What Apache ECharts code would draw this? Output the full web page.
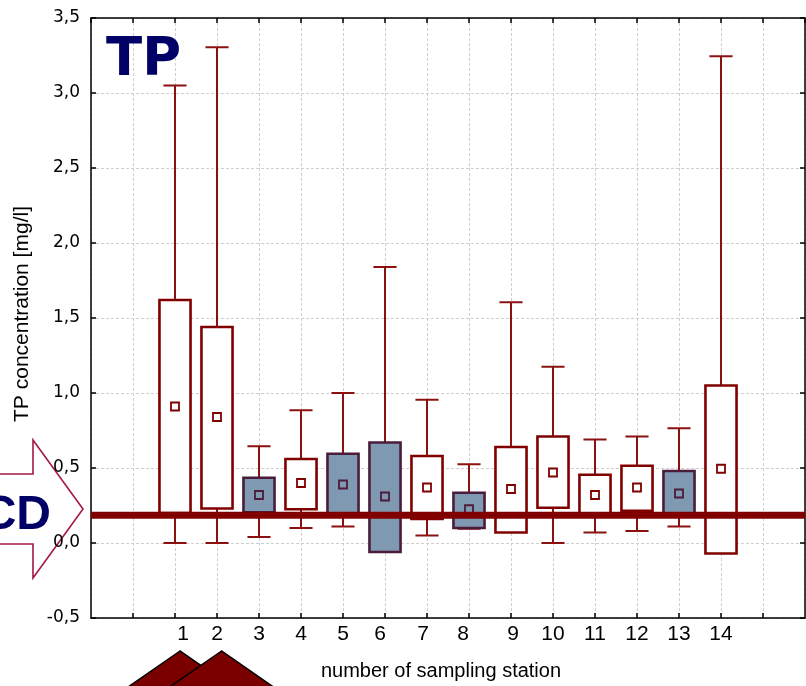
<!DOCTYPE html>
<html>
<head>
<meta charset="utf-8">
<script src="https://cdn.jsdelivr.net/npm/echarts@6/dist/echarts.min.js"></script>
<style>
  html, body { margin: 0; padding: 0; background: #fff; }
  #chart { width: 806px; height: 686px; }
</style>
</head>
<body>
<div id="chart"></div>
<script>
// ---- data ----
const stations    = [1, 2, 3, 4, 5, 6, 7, 8, 9, 10, 11, 12, 13, 14];
const means       = [0.91, 0.84, 0.32, 0.40, 0.39, 0.31, 0.37, 0.225, 0.36, 0.47, 0.32, 0.37, 0.33, 0.495];
const boxLow      = [0.20, 0.23, 0.205, 0.225, 0.19, -0.06, 0.16, 0.10, 0.07, 0.235, 0.185, 0.215, 0.18, -0.07];
const boxHigh     = [1.62, 1.44, 0.435, 0.56, 0.595, 0.67, 0.58, 0.335, 0.64, 0.71, 0.455, 0.515, 0.48, 1.05];
const whiskerLow  = [0.0, 0.0, 0.04, 0.10, 0.11, -0.06, 0.05, 0.095, 0.07, 0.0, 0.07, 0.08, 0.11, -0.07];
const whiskerHigh = [3.05, 3.305, 0.645, 0.885, 1.00, 1.84, 0.955, 0.525, 1.605, 1.175, 0.69, 0.71, 0.765, 3.245];
const filledBox   = [0, 0, 1, 0, 1, 1, 0, 1, 0, 0, 0, 0, 1, 0];
const cdLevel     = 0.185;
const yTicks      = [-0.5, 0, 0.5, 1, 1.5, 2, 2.5, 3, 3.5];

// ---- styling helpers ----
const xMin = -1, xMax = 16;
const labelShift = { 1: 8, 6: -5, 7: -4, 8: -6, 9: 2 };   // label nudges seen in the reference (px)

const rows = stations.map((s, i) => [s, means[i], boxLow[i], boxHigh[i], whiskerLow[i], whiskerHigh[i], filledBox[i]]);

const RED = '#800000';
const WHISK = '#8b1111';
const BLUE = '#8099b2';
const PURPLE = '#4a1c3a';

const rich = {};
Object.keys(labelShift).forEach(k => {
  const s = labelShift[k];
  rich['n' + k] = {
    fontFamily: 'Liberation Sans', fontSize: 21, color: '#000',
    padding: s > 0 ? [0, 0, 0, 2 * s] : [0, -2 * s, 0, 0]
  };
});

const chart = echarts.init(document.getElementById('chart'), null, { renderer: 'canvas' });

const option = {
  backgroundColor: '#ffffff',
  animation: false,
  grid: { left: 91, right: 1, top: 18, bottom: 68, containLabel: false },
  xAxis: [{
    type: 'value', min: xMin, max: xMax, interval: 1, position: 'bottom',
    axisLine: { show: true, onZero: false, lineStyle: { color: '#000', width: 1.5 } },
    axisTick: { show: true, inside: true, length: 5, lineStyle: { color: '#000', width: 1.5 } },
    axisLabel: {
      margin: 6, fontFamily: 'Liberation Sans', fontSize: 21, color: '#000',
      showMinLabel: false, showMaxLabel: false,
      formatter: v => {
        if (stations.indexOf(v) < 0) return '';
        return labelShift[v] !== undefined ? '{n' + v + '|' + v + '}' : String(v);
      },
      rich: rich
    },
    splitLine: { show: true, lineStyle: { color: '#cfcfcf', width: 1, type: [3, 2] } },
    name: 'number of sampling station', nameLocation: 'middle', nameGap: 43,
    nameTextStyle: { fontFamily: 'Liberation Sans', fontSize: 20, color: '#000', padding: [0, 14, 0, 0] }
  }, {
    type: 'value', min: xMin, max: xMax, interval: 1, position: 'top',
    axisLine: { show: true, onZero: false, lineStyle: { color: '#000', width: 1.5 } },
    axisTick: { show: true, inside: true, length: 5, lineStyle: { color: '#000', width: 1.5 } },
    axisLabel: { show: false }, splitLine: { show: false }
  }],
  yAxis: [{
    type: 'value', min: yTicks[0], max: yTicks[yTicks.length - 1], interval: 0.5, position: 'left',
    axisLine: { show: true, onZero: false, lineStyle: { color: '#000', width: 1.5 } },
    axisTick: { show: true, inside: true, length: 5, lineStyle: { color: '#000', width: 1.5 } },
    axisLabel: {
      margin: 11, fontFamily: 'DejaVu Sans', fontSize: 17, color: '#000',
      formatter: v => v.toFixed(1).replace('.', ',')
    },
    splitLine: { show: true, lineStyle: { color: '#cfcfcf', width: 1, type: [3, 2] } },
    name: 'TP concentration [mg/l]', nameLocation: 'middle', nameGap: 58, nameRotate: 90,
    nameTextStyle: { fontFamily: 'Liberation Sans', fontSize: 21, color: '#000', padding: [0, 0, 0, 8] }
  }, {
    type: 'value', min: yTicks[0], max: yTicks[yTicks.length - 1], interval: 0.5, position: 'right',
    axisLine: { show: true, onZero: false, lineStyle: { color: '#000', width: 1.5 } },
    axisTick: { show: true, inside: true, length: 5, lineStyle: { color: '#000', width: 1.5 } },
    axisLabel: { show: false }, splitLine: { show: false }
  }],
  series: [{
    type: 'custom',
    z: 3,
    data: rows,
    encode: { x: 0, y: [1, 2, 3, 4, 5] },
    renderItem: (params, api) => {
      const x = api.value(0);
      const mean = api.value(1), lo = api.value(2), hi = api.value(3);
      const wlo = api.value(4), whi = api.value(5), filled = api.value(6) === 1;
      const unit = api.size([1, 0])[0];
      const halfBox = unit * 0.37, halfCap = unit * 0.275;
      const pHi = api.coord([x, hi]), pLo = api.coord([x, lo]);
      const pWhi = api.coord([x, whi]), pWlo = api.coord([x, wlo]);
      const pM = api.coord([x, mean]);
      const cx = pHi[0];
      const wStyle = { stroke: WHISK, lineWidth: 2, fill: null };
      const children = [];
      if (whi > hi) {
        children.push({ type: 'line', shape: { x1: cx, y1: pWhi[1], x2: cx, y2: pHi[1] }, style: wStyle });
        children.push({ type: 'line', shape: { x1: cx - halfCap, y1: pWhi[1], x2: cx + halfCap, y2: pWhi[1] }, style: wStyle });
      }
      if (wlo < lo) {
        children.push({ type: 'line', shape: { x1: cx, y1: pLo[1], x2: cx, y2: pWlo[1] }, style: wStyle });
        children.push({ type: 'line', shape: { x1: cx - halfCap, y1: pWlo[1], x2: cx + halfCap, y2: pWlo[1] }, style: wStyle });
      }
      children.push({
        type: 'rect',
        shape: { x: cx - halfBox, y: pHi[1], width: 2 * halfBox, height: pLo[1] - pHi[1] },
        style: { fill: filled ? BLUE : '#fff', stroke: filled ? PURPLE : RED, lineWidth: 2.6 }
      });
      children.push({
        type: 'rect',
        shape: { x: pM[0] - 4, y: pM[1] - 4, width: 8, height: 8 },
        style: { fill: filled ? BLUE : '#fff', stroke: filled ? PURPLE : RED, lineWidth: 1.8 }
      });
      return { type: 'group', children };
    }
  }, {
    type: 'line',
    z: 6,
    silent: true,
    symbol: 'none',
    data: [[xMin, cdLevel], [xMax, cdLevel]],
    lineStyle: { color: RED, width: 7, cap: 'butt' }
  }],
  graphic: [
    {
      type: 'polygon', z: -5,
      shape: { points: [[-10, 474], [33, 474], [33, 440], [83, 509], [33, 578], [33, 544], [-10, 544]] },
      style: { fill: '#fff', stroke: '#a3174a', lineWidth: 1.6 }
    },
    {
      type: 'text', z: 50,
      style: { text: 'CD', x: 51, y: 516, textAlign: 'right', textVerticalAlign: 'middle',
        font: 'bold 48px "Liberation Sans"', fill: '#000066' }
    },
    {
      type: 'text', z: 50,
      style: { text: 'TP', x: 106, y: 61, textAlign: 'left', textVerticalAlign: 'middle',
        font: 'bold 53px "DejaVu Sans"', fill: '#000066' }
    },
    {
      type: 'polygon', z: 50,
      shape: { points: [[180, 651], [180 - 75, 703], [180 + 75, 703]] },
      style: { fill: '#7a0000', stroke: '#000', lineWidth: 1.5 }
    },
    {
      type: 'polygon', z: 51,
      shape: { points: [[221.5, 651], [221.5 - 75, 703], [221.5 + 75, 703]] },
      style: { fill: '#7a0000', stroke: '#000', lineWidth: 1.5 }
    }
  ]
};

chart.setOption(option);
</script>
</body>
</html>
